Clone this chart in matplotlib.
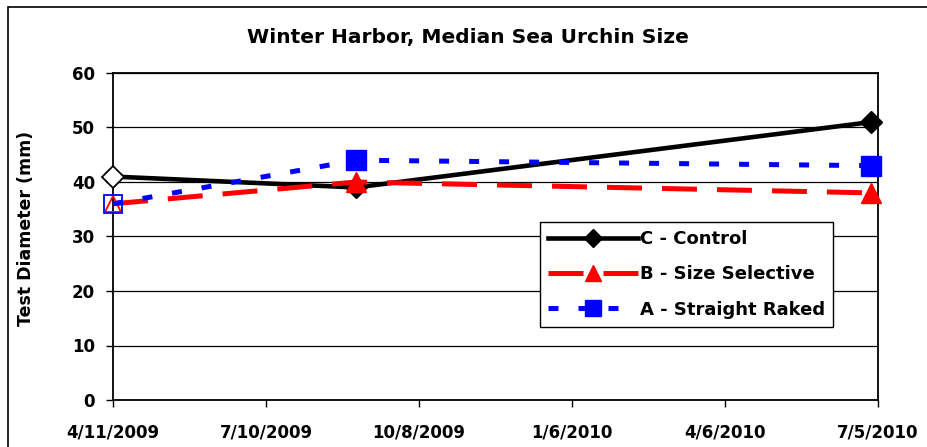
import datetime as dt
import matplotlib
matplotlib.use("Agg")
import matplotlib.pyplot as plt
import matplotlib.dates as mdates
from matplotlib.patches import Rectangle

# data
dates = [dt.date(2009, 4, 11), dt.date(2009, 9, 1), dt.date(2010, 7, 1)]
control = [41, 39, 51]
size_selective = [36, 40, 38]
straight_raked = [36, 44, 43]
tick_dates = [dt.date(2009, 4, 11), dt.date(2009, 7, 10), dt.date(2009, 10, 8),
              dt.date(2010, 1, 6), dt.date(2010, 4, 6), dt.date(2010, 7, 5)]
tick_labels = ['4/11/2009', '7/10/2009', '10/8/2009', '1/6/2010', '4/6/2010', '7/5/2010']

plt.rcParams['font.family'] = 'DejaVu Sans'
plt.rcParams['font.weight'] = 'bold'

fig = plt.figure(figsize=(9.27, 4.47), dpi=100)
ax = fig.add_axes([113/927, 47/447, 765/927, 327/447])

# outer chart border
fig.patches.append(Rectangle((8/927, -0.1), 1.2, 1 - 7/447 + 0.1, transform=fig.transFigure,
                             fill=False, edgecolor='black', lw=1.2))

# C - Control
ax.plot(dates, control, color='black', lw=3.3, marker='D', ms=11, markevery=[1, 2],
        label='C - Control', zorder=3, clip_on=False)
ax.plot(dates[:1], control[:1], ls='none', marker='D', ms=11, mfc='white', mec='black',
        mew=1.3, zorder=3, clip_on=False)
# B - Size Selective
ax.plot(dates, size_selective, color='red', lw=3.6, dashes=(7, 4), marker='^', ms=14,
        markevery=[1, 2], label='B - Size Selective', zorder=4, clip_on=False)
ax.plot(dates[:1], size_selective[:1], ls='none', marker='^', ms=12, mfc='none', mec='red',
        mew=1.3, zorder=4, clip_on=False)
# A - Straight Raked
ax.plot(dates, straight_raked, color='blue', lw=3.6, dashes=(2, 4), marker='s', ms=14,
        markevery=[1, 2], label='A - Straight Raked', zorder=5, clip_on=False)
ax.plot(dates[:1], straight_raked[:1], ls='none', marker='s', ms=13, mfc='none', mec='blue',
        mew=1.3, zorder=5, clip_on=False)

ax.set_ylim(0, 60)
ax.set_yticks(range(0, 61, 10))
ax.set_xlim(mdates.date2num(tick_dates[0]), mdates.date2num(tick_dates[-1]))
ax.set_xticks(mdates.date2num(tick_dates))
ax.set_xticklabels(tick_labels)
ax.yaxis.grid(True, color='black', lw=0.9)
ax.set_axisbelow(True)
for s in ax.spines.values():
    s.set_color('black')
    s.set_linewidth(1.3)
ax.tick_params(axis='both', labelsize=12, length=5, width=1, direction='out')
ax.tick_params(axis='x', pad=12)
ax.tick_params(axis='y', pad=8)
ax.set_ylabel('Test Diameter (mm)', fontsize=12.5, fontweight='bold')
ax.yaxis.set_label_coords(-0.102, 0.526)
fig.suptitle('Winter Harbor, Median Sea Urchin Size', fontsize=14.5, fontweight='bold',
             x=468/927, y=1 - 38/447, va='center')

leg = ax.legend(loc='upper left', bbox_to_anchor=(0.558, 0.544), borderaxespad=0,
                fontsize=13, handlelength=5, markerscale=0.8, frameon=True, fancybox=False,
                edgecolor='black', framealpha=1, labelspacing=0.95, handletextpad=0.1,
                borderpad=0.45)
leg.get_frame().set_linewidth(1.0)

fig.savefig('out.png', dpi=100)
